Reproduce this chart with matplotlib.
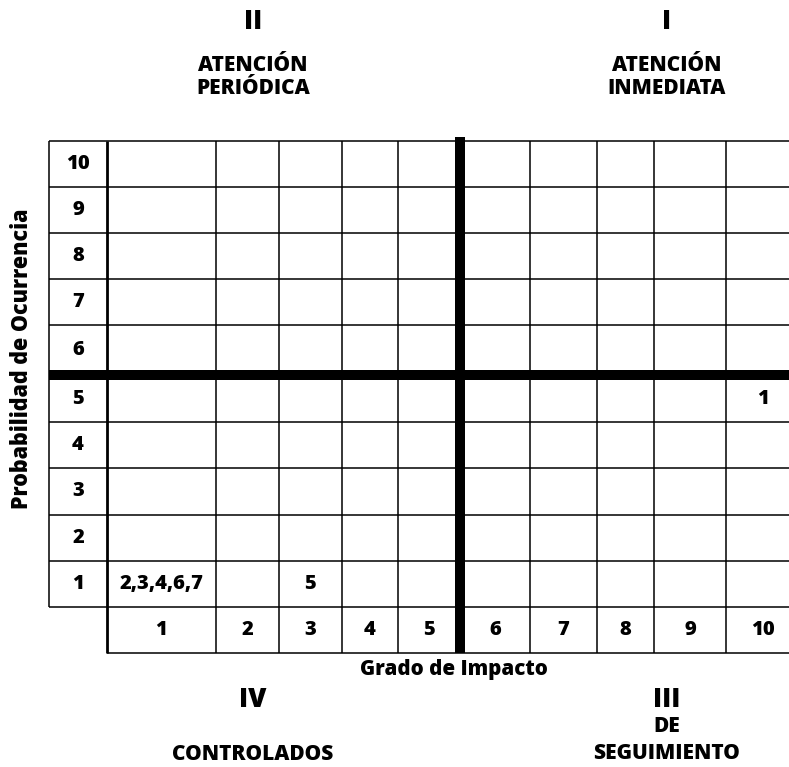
import numpy as np
import matplotlib
matplotlib.use("Agg")
import matplotlib.pyplot as plt

plt.rcParams['font.family'] = ['Open Sans', 'DejaVu Sans']
plt.rcParams['font.weight'] = 'bold'

# ---- data ----
impact_levels = [1, 2, 3, 4, 5, 6, 7, 8, 9, 10]
probability_levels = [1, 2, 3, 4, 5, 6, 7, 8, 9, 10]
risk_ids = [1, 2, 3, 4, 5, 6, 7]
risk_impact = [10, 1, 1, 1, 3, 1, 1]
risk_probability = [5, 1, 1, 1, 1, 1, 1]

quadrant_numerals = ['II', 'I', 'IV', 'III']
quadrant_names = ['ATENCIÓN\nPERIÓDICA', 'ATENCIÓN\nINMEDIATA', 'CONTROLADOS', 'DE\nSEGUIMIENTO']
x_title = 'Grado de Impacto'
y_title = 'Probabilidad de Ocurrencia'

# ---- layout (pixels on a 789x767 canvas) ----
W, H = 789, 767
grid_left = 107          # first impact column starts here
label_left = 49          # probability label column
grid_top = 141
col_widths = [109, 63, 63, 56, 62, 70, 67, 57, 72, 74]       # impact 1..10
row_heights = [46, 46, 46, 46, 50, 47, 46, 47, 46, 46]       # probability 10..1
axis_row_h = 46
thin = 1.1
thick = 7.2
heavy = 800

col_edges = grid_left + np.concatenate([[0], np.cumsum(col_widths)])
row_edges = grid_top + np.concatenate([[0], np.cumsum(row_heights)])
grid_bottom = row_edges[-1]
axis_bottom = grid_bottom + axis_row_h
right = col_edges[-1]

col_center = {v: (col_edges[i] + col_edges[i + 1]) / 2 for i, v in enumerate(impact_levels)}
prob_desc = probability_levels[::-1]
row_center = {v: (row_edges[i] + row_edges[i + 1]) / 2 for i, v in enumerate(prob_desc)}

fig = plt.figure(figsize=(W / 100, H / 100), dpi=100)
ax = fig.add_axes([0, 0, 1, 1])
ax.set_xlim(0, W)
ax.set_ylim(H, 0)
ax.axis('off')

# horizontal grid lines
for y in row_edges:
    ax.hlines(y, label_left, right, color='black', lw=thin)
ax.hlines(axis_bottom, grid_left, right, color='black', lw=thin)

# vertical grid lines
for x in col_edges[1:]:
    ax.vlines(x, grid_top, axis_bottom, color='black', lw=thin)
ax.vlines(label_left, grid_top, grid_bottom, color='black', lw=thin)
ax.vlines(grid_left, grid_top, axis_bottom, color='black', lw=2.0)

# thick quadrant dividers (between probability 5/6 and impact 5/6)
mid_y = row_edges[prob_desc.index(5)]
mid_x = col_edges[impact_levels.index(6)]
ax.hlines(mid_y, label_left, right, color='black', lw=thick)
ax.vlines(mid_x, grid_top - 4, axis_bottom, color='black', lw=thick)

# axis labels inside the table
num_fs = 14.5
for p in probability_levels:
    ax.text((label_left + grid_left) / 2, row_center[p], str(p),
            ha='center', va='center', fontsize=num_fs, fontweight=heavy)
for c in impact_levels:
    ax.text(col_center[c], (grid_bottom + axis_bottom) / 2, str(c),
            ha='center', va='center', fontsize=num_fs, fontweight=heavy)

# risks placed in their cells
cells = {}
for rid, imp, prob in zip(risk_ids, risk_impact, risk_probability):
    cells.setdefault((imp, prob), []).append(rid)
for (imp, prob), ids in cells.items():
    ax.text(col_center[imp], row_center[prob], ','.join(str(r) for r in sorted(ids)),
            ha='center', va='center', fontsize=num_fs, fontweight=heavy)

# titles
ax.text(454, 669, x_title, ha='center', va='center',
        fontsize=14.8, fontweight=heavy)
ax.text(22, 359, y_title, ha='center', va='center', rotation=90,
        fontsize=15.5, fontweight=heavy)

# quadrant labels
left_x, right_x = 253, 667
roman_fs = 19
name_fs = 15
ax.text(left_x, 22, quadrant_numerals[0], ha='center', va='center', fontsize=roman_fs, fontweight=heavy)
ax.text(right_x, 22, quadrant_numerals[1], ha='center', va='center', fontsize=roman_fs, fontweight=heavy)
ax.text(left_x, 77, quadrant_names[0], ha='center', va='center', fontsize=name_fs,
        linespacing=1.15, fontweight=heavy)
ax.text(right_x, 77, quadrant_names[1], ha='center', va='center', fontsize=name_fs,
        linespacing=1.15, fontweight=heavy)
ax.text(left_x, 700, quadrant_numerals[2], ha='center', va='center', fontsize=roman_fs, fontweight=heavy)
ax.text(right_x, 700, quadrant_numerals[3], ha='center', va='center', fontsize=roman_fs, fontweight=heavy)
ax.text(left_x, 754, quadrant_names[2], ha='center', va='center', fontsize=name_fs, fontweight=heavy)
ax.text(right_x, 740, quadrant_names[3], ha='center', va='center', fontsize=name_fs,
        linespacing=1.35, fontweight=heavy)

fig.savefig('out.png', dpi=100)
